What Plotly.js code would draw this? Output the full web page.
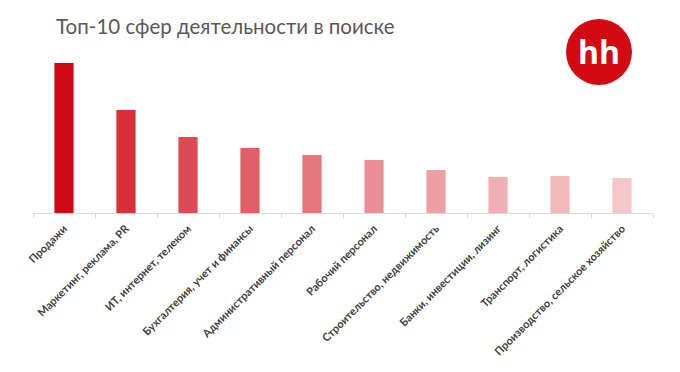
<!DOCTYPE html>
<html>
<head>
<meta charset="utf-8">
<script src="https://cdn.plot.ly/plotly-3.0.1.min.js"></script>
<style>html,body{margin:0;padding:0;background:#fff;}#chart{width:680px;height:372px;}</style>
</head>
<body>
<div id="chart"></div>
<script>
const categories = [
  "Продажи",
  "Маркетинг, реклама, PR",
  "ИТ, интернет, телеком",
  "Бухгалтерия, учет и финансы",
  "Административный персонал",
  "Рабочий персонал",
  "Строительство, недвижимость",
  "Банки, инвестиции, лизинг",
  "Транспорт, логистика",
  "Производство, сельское хозяйство"
];
const values = [150, 103, 76, 65, 58, 53, 43, 36, 37, 35];
const barColors = ["#CF0B16", "#D92F38", "#DC4B53", "#E06068", "#E5777C", "#EA9094", "#EDA0A3", "#F0B0B3", "#F2BABD", "#F4C7C9"];
const titleText = "Топ-10 сфер деятельности в поиске";
const logoText = "hh";

const data = [{
  type: "bar",
  x: categories,
  y: values,
  marker: {color: barColors},
  hoverinfo: "x+y"
}];

const layout = {
  width: 680, height: 372,
  margin: {l: 33, r: 27, t: 63, b: 159},
  paper_bgcolor: "#ffffff",
  plot_bgcolor: "#ffffff",
  bargap: 0.69,
  showlegend: false,
  title: {
    text: titleText,
    font: {family: "Lato", size: 20.5, color: "#595959"},
    x: 0, xref: "paper", xanchor: "left",
    y: 1, yref: "container", yanchor: "top",
    pad: {l: 23, t: 20}
  },
  xaxis: {
    type: "category",
    tickangle: -45,
    tickson: "boundaries",
    ticks: "outside",
    ticklen: 4,
    tickcolor: "#D9D9D9",
    ticklabelstandoff: 4,
    showline: true,
    linecolor: "#D9D9D9",
    linewidth: 1,
    showgrid: false,
    tickfont: {family: "Lato", size: 11, color: "#404040", weight: 700},
    fixedrange: true
  },
  yaxis: {
    range: [0, 150],
    visible: false,
    showgrid: false,
    zeroline: false,
    fixedrange: true
  },
  shapes: [{
    type: "circle",
    xref: "paper", yref: "paper",
    xsizemode: "pixel", ysizemode: "pixel",
    xanchor: 1.0, yanchor: 1.0,
    x0: -87, x1: -21, y0: 44, y1: -22,
    fillcolor: "#D20A11",
    line: {width: 0}
  }],
  annotations: [{
    text: "<b>" + logoText + "</b>",
    xref: "paper", yref: "paper",
    x: 1.0, y: 1.0,
    xshift: -54, yshift: 12,
    showarrow: false,
    font: {family: "Open Sans", size: 32, color: "#ffffff"},
    xanchor: "center", yanchor: "middle"
  }]
};

Plotly.newPlot("chart", data, layout, {displayModeBar: false, staticPlot: true});
</script>
</body>
</html>
